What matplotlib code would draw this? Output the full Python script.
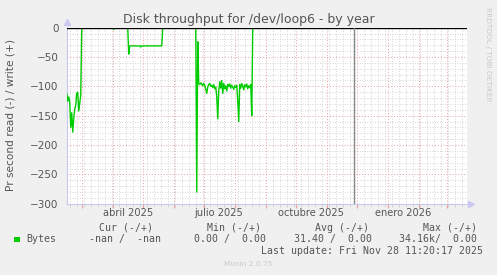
import matplotlib.pyplot as plt
import matplotlib.dates as mdates
import numpy as np
from datetime import datetime, timedelta

# read throughput (bytes/s, shown negative) - daily samples per active block
block_starts = ["2025-02-14", "2025-04-02", "2025-04-17", "2025-06-24"]
block_values = [
    [-112, -125, -118, -128, -170, -145, -178, -155, -138, -132, -112, -110, -142, -128, -115],
    [-3],
    [-45, -31, -31, -31, -31, -31, -31, -31, -31, -31, -31, -31, -33, -31, -31, -31, -31,
     -31, -31, -31, -31, -31, -31, -31, -31, -31, -31, -31, -31, -31, -31, -31, -31, -31],
    [-280, -24, -95, -97, -94, -96, -99, -95, -98, -105, -112, -101, -97, -95, -100, -98,
     -102, -97, -104, -101, -118, -155, -108, -92, -103, -90, -112, -95, -104, -99, -108,
     -97, -100, -96, -103, -98, -101, -105, -99, -102, -98, -125, -160, -97, -103, -95,
     -100, -106, -97, -101, -96, -104, -99, -102, -97, -150],
]
data_first = "2025-02-14"
data_last = "2025-11-28"

x_start = datetime(2025, 2, 14, 6)
x_end = datetime(2026, 3, 21, 6)
last_update = datetime(2025, 11, 28, 11, 20, 17)

month_labels = ["abril 2025", "julio 2025", "octubre 2025", "enero 2026"]
month_label_dates = ["2025-04-16", "2025-07-16", "2025-10-16", "2026-01-16"]

legend_heads = ["Cur (-/+)", "Min (-/+)", "Avg (-/+)", "Max (-/+)"]
legend_vals = ["-nan /  -nan", "0.00 /  0.00", "31.40 /  0.00", "34.16k/  0.00"]

# build daily series (zero outside the active blocks)
d0 = datetime.strptime(data_first, "%Y-%m-%d")
d1 = datetime.strptime(data_last, "%Y-%m-%d")
n = (d1 - d0).days + 1
days = [d0 + timedelta(days=i) for i in range(n)]
vals = np.zeros(n)
for s, v in zip(block_starts, block_values):
    i0 = (datetime.strptime(s, "%Y-%m-%d") - d0).days
    vals[i0:i0 + len(v)] = v

W, H = 497, 275
fig = plt.figure(figsize=(W / 100, H / 100), dpi=100, facecolor="#F0F0F0")
ax = fig.add_axes([67 / W, 1 - 203.7 / H, 400 / W, 176 / H])
ax.set_facecolor("white")

def px(x, y):
    return x / W, 1 - y / H

# grid
ax.set_xlim(x_start, x_end)
ax.set_ylim(-300, 0)
ax.xaxis.set_major_locator(mdates.MonthLocator())
ax.xaxis.set_minor_locator(mdates.WeekdayLocator(byweekday=mdates.MO))
ax.xaxis.set_major_formatter(plt.NullFormatter())
ax.set_yticks(np.arange(-300, 1, 50))
ax.set_yticks(np.arange(-300, 1, 10), minor=True)
ax.grid(True, which="minor", color="#C8C8C8", linestyle=(0, (1, 2)), linewidth=0.6)
ax.grid(True, which="major", color="#E8A0A0", linestyle=(0, (1, 2)), linewidth=0.7)
ax.tick_params(axis="x", which="major", length=3, color="#E8A0A0", direction="out")
ax.tick_params(axis="x", which="minor", length=2, color="#D0D0D0", direction="out")
ax.tick_params(axis="y", which="both", length=0, labelsize=7.5, labelcolor="#555555", pad=6)

for sp in ["top", "right"]:
    ax.spines[sp].set_visible(False)
for sp in ["left", "bottom"]:
    ax.spines[sp].set_color("#C8C8F0")
    ax.spines[sp].set_linewidth(0.8)

# arrows at axis ends
ax.plot([0], [1.03], marker="^", color="#C8C8F0", markersize=4, transform=ax.transAxes, clip_on=False)
ax.plot([1.01], [0], marker=">", color="#C8C8F0", markersize=4, transform=ax.transAxes, clip_on=False)

# data
ax.plot(days, vals, color="#00CC00", linewidth=1.0, zorder=3)
ax.axhline(0, color="black", linewidth=1.0, zorder=4)
ax.axvline(last_update, color="#888888", linewidth=1.0, zorder=4)

# month labels
for lab, d in zip(month_labels, month_label_dates):
    ax.text(datetime.strptime(d, "%Y-%m-%d"), -0.05, lab, transform=ax.get_xaxis_transform(),
            ha="center", va="center", fontsize=7.1, color="#555555")

# texts
fig.text(*px(248.8, 19), "Disk throughput for /dev/loop6 - by year", ha="center", va="center",
         fontsize=9, color="#555555")
fig.text(*px(11, 115), "Pr second read (-) / write (+)", rotation=90, ha="center", va="center",
         fontsize=7.6, color="#555555")
fig.text(*px(488, 54), "RRDTOOL / TOBI OETIKER", rotation=270, ha="center", va="center",
         fontsize=5.3, color="#C8C8C8")

mono = dict(family="DejaVu Sans Mono", fontsize=7.1, color="#555555", va="center")
for head, x in zip(legend_heads, [98.7, 206.7, 315, 422.7]):
    fig.text(*px(x, 227.7), head, ha="left", **mono)
for v, x in zip(legend_vals, [160.7, 266, 371.7, 476.7]):
    fig.text(*px(x, 239.3), v, ha="right", **mono)
fig.text(*px(26.7, 239.3), "Bytes", ha="left", **mono)
fig.patches.append(plt.Rectangle(px(14, 242.3), 6 / W, 5.6 / H, transform=fig.transFigure,
                                 facecolor="#00CC00", edgecolor="none"))
fig.text(*px(482.7, 251), "Last update: Fri Nov 28 11:20:17 2025", ha="right", **mono)
fig.text(*px(247.8, 264), "Munin 2.0.75", ha="center", va="center", fontsize=5.3, color="#C8C8C8")

fig.savefig("out.png", dpi=100, facecolor=fig.get_facecolor())
